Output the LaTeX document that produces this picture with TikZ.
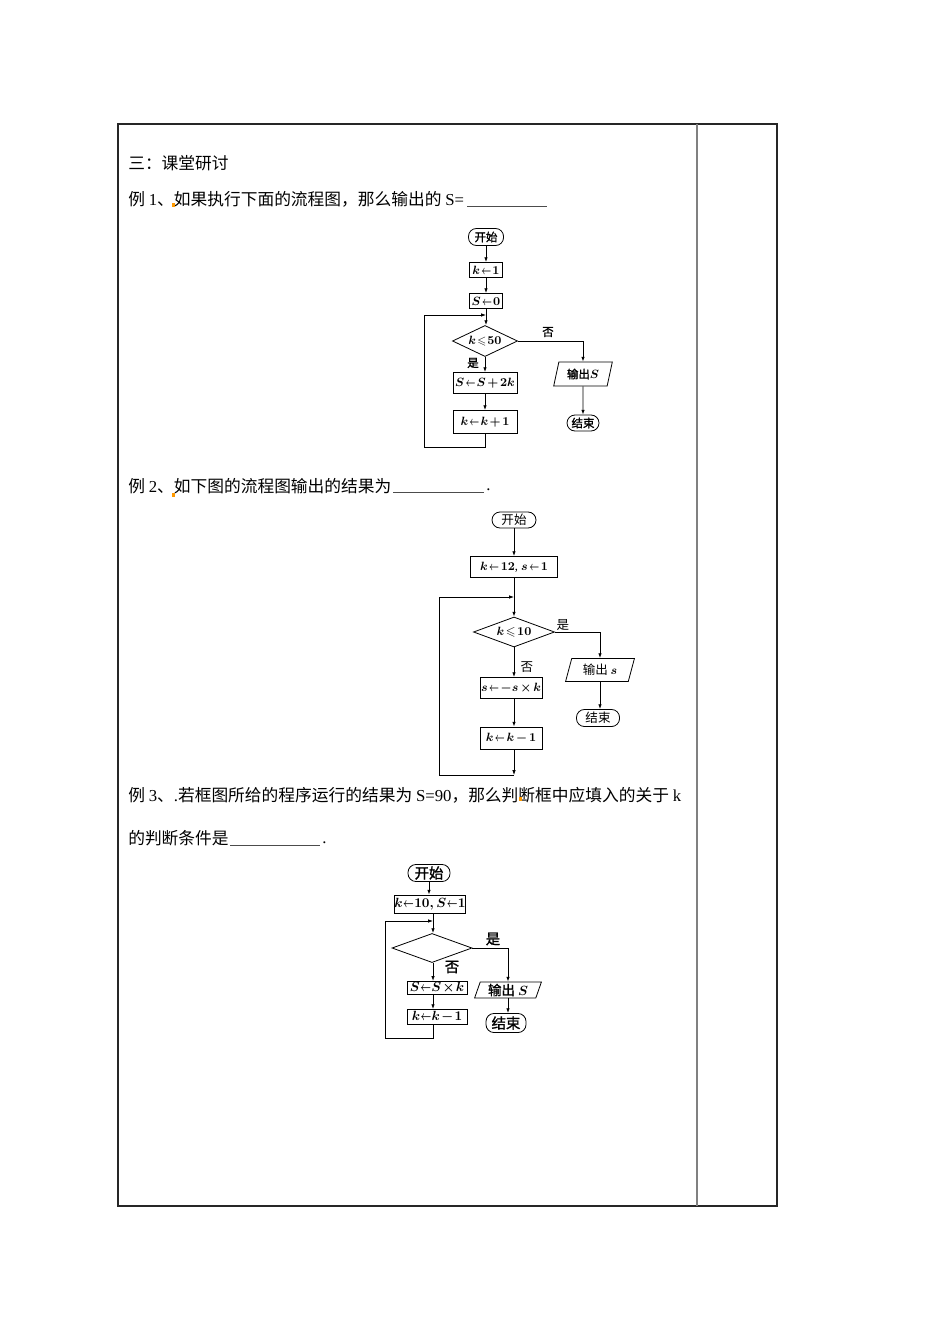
\documentclass[tikz,border=0pt]{standalone}
\usepackage{amsmath,amssymb,graphicx}
\usepackage{fontspec}
\setmainfont{Liberation Serif}
\newfontfamily\zh{Noto Sans CJK SC}
\newfontfamily\zhb{Noto Sans CJK SC}[FakeBold=1.5]
\newcommand\la{\mathrel{\scalebox{0.7}[1]{$\leftarrow$}}}
\newcommand\tightmath[2]{\thickmuskip=#1mu\relax\medmuskip=#2mu\relax}
\usetikzlibrary{shapes.geometric,arrows.meta}
\begin{document}
\begin{tikzpicture}[x=0.75pt,y=-0.75pt,
  txt/.style={anchor=west,inner sep=0pt,font=\fontsize{12.55}{14}\selectfont},
  fl/.style={line width=0.6pt},
  arr/.style={fl,-{Latex[length=3.6pt,width=2.6pt]}},
  box/.style={draw,fl,inner sep=0pt},
  term/.style={draw,fl,rounded corners=6pt,inner sep=0pt},
  dia/.style={draw,fl,diamond,aspect=2.2,inner sep=0pt},
  io/.style={draw,fl,trapezium,trapezium left angle=72,trapezium right angle=108,trapezium stretches=true,inner sep=0pt},
  fa/.style={font=\fontsize{8.6}{10}\selectfont\boldmath\tightmath{1.5}{2}},
  fb/.style={font=\fontsize{9.4}{11}\selectfont\boldmath\tightmath{2}{2.5}},
  fc/.style={font=\fontsize{10.1}{12}\selectfont\boldmath\tightmath{0.5}{1.5}},
  fcz/.style={font=\fontsize{10.8}{12}\selectfont},
  lab/.style={inner sep=0pt}
]
\useasboundingbox (0,0) rectangle (950,1344);
\fill[white] (0,0) rectangle (950,1344);
% table
\draw[line width=0.8pt,black!85] (118,124) rectangle (777,1206);
\draw[line width=1.2pt,black!50] (697,124) -- (697,1206);

% texts
\node[txt] (t0) at (128,163) {\zh 三：课堂研讨};
\node[txt] (t1) at (128,199) {\zh 例 \rmfamily 1\zh 、如果执行下面的流程图，那么输出的 \rmfamily S=};
\draw[line width=0.6pt,black!70] (467,206) -- (547,206);
\node[txt] (t2) at (128,486) {\zh 例 \rmfamily 2\zh 、如下图的流程图输出的结果为};
\draw[line width=0.6pt,black!70] (393,492) -- (484,492);
\node[txt] (p2) at (486,490) {.};
\node[txt] (t3) at (128,795) {\zh 例 \rmfamily 3\zh 、\rmfamily .\zh 若框图所给的程序运行的结果为 \rmfamily S=90\zh ，那么判断框中应填入的关于 \rmfamily k};
\node[txt] (t4) at (128,838) {\zh 的判断条件是};
\draw[line width=0.6pt,black!70] (230,845) -- (320,845);
\node[txt] (p4) at (322,843) {.};
\fill[orange!80!yellow] (172,203) rectangle (175,207);
\fill[orange!80!yellow] (172,493) rectangle (175,497);
\fill[orange!80!yellow] (519,797) rectangle (522,801);

% ---------- flowchart 1
\node[term,fa,minimum width=26.3pt,minimum height=12.8pt] (s1) at (486,237) {\zhb 开始};
\node[box,fa,minimum width=24.8pt,minimum height=11.3pt] (a1) at (486,270) {$k\la 1$};
\node[box,fa,minimum width=24.8pt,minimum height=11.3pt] (a2) at (486,301) {$S\la 0$};
\node[dia,fa,minimum width=48.8pt,minimum height=23.3pt] (d1) at (485,341) {$k\leqslant 50$};
\node[box,fa,minimum width=48pt,minimum height=15.8pt] (b1) at (485,383) {$S\la S+2k$};
\node[box,fa,minimum width=48pt,minimum height=17.3pt] (b2) at (485,422) {$k\la k+1$};
\node[io,fa,minimum width=44pt,minimum height=18pt] (o1) at (583,374) {\zhb 输出$S$};
\node[term,fa,minimum width=24pt,minimum height=12pt] (e1) at (583,423) {\zhb 结束};
\coordinate (l1a) at (424,447);
\coordinate (l1b) at (424,315);
\draw[arr] (s1) -- (a1);
\draw[arr] (a1) -- (a2);
\draw[arr] (a2.south) -- (a2.south |- d1.north);
\draw[arr] (d1.south) -- (b1.north);
\draw[arr] (b1) -- (b2);
\draw[fl] (b2.south) -- (b2.south |- l1a) -- (l1a) -- (l1b);
\draw[arr] (l1b) -- (l1b -| a2.south);
\draw[arr] (d1.east) -- (d1.east -| o1.north) -- (o1.north);
\draw[arr] (o1) -- (e1);
\node[lab,fa] at (548,332) {\zhb 否};
\node[lab,fa] at (473,363) {\zhb 是};

% ---------- flowchart 2
\node[term,fb,minimum width=33pt,minimum height=12pt] (s2) at (514,520) {\zh 开始};
\node[box,fb,minimum width=65.3pt,minimum height=15.8pt] (c1) at (514,567) {$k\la 12$, $s\la 1$};
\node[dia,fb,minimum width=60.8pt,minimum height=22.5pt] (d2) at (514,632) {$k\leqslant 10$};
\node[box,fb,minimum width=46.5pt,minimum height=15.8pt] (c2) at (511,688) {$s\la -s\times k$};
\node[box,fb,minimum width=46.5pt,minimum height=16.5pt] (c3) at (511,738) {$k\la k-1$};
\node[io,fb,minimum width=51.8pt,minimum height=17.3pt] (o2) at (600,670) {\zh 输出 $s$};
\node[term,fb,minimum width=32.3pt,minimum height=12.8pt] (e2) at (598,718) {\zh 结束};
\coordinate (l2a) at (514,775);
\coordinate (l2b) at (439,775);
\coordinate (l2c) at (439,597);
\draw[arr] (s2) -- (c1);
\draw[arr] (c1) -- (d2);
\draw[arr] (d2.south) -- (d2.south |- c2.north);
\draw[arr] (d2.south |- c2.south) -- (d2.south |- c3.north);
\draw[arr] (d2.south |- c3.south) -- (l2a);
\draw[fl] (l2a) -- (l2b) -- (l2c);
\draw[arr] (l2c) -- (l2c -| d2.north);
\draw[arr] (d2.east) -- (d2.east -| o2.north) -- (o2.north);
\draw[arr] (o2.south) -- (o2.south |- e2.north);
\node[lab,fb] at (563,625) {\zh 是};
\node[lab,fb] at (527,667) {\zh 否};

% ---------- flowchart 3
\node[term,fcz,minimum width=31.5pt,minimum height=12.8pt] (s3) at (429,873) {\zhb 开始};
\node[box,fc,minimum width=52pt,minimum height=13.5pt] (f1) at (430,904) {$k\la 10,S\la 1$};
\node[dia,fc,minimum width=60pt,minimum height=21.8pt] (d3) at (432,948) {};
\node[box,fc,minimum width=45pt,minimum height=10pt] (g1) at (437,988) {$S\la S\times k$};
\node[box,fc,minimum width=45pt,minimum height=11.3pt] (g2) at (437,1017) {$k\la k-1$};
\node[io,fc,minimum width=50.3pt,minimum height=12pt] (o3) at (508,990) {\zhb 输出 $S$};
\node[term,fcz,minimum width=30pt,minimum height=14.3pt] (e3) at (506,1023) {\zhb 结束};
\coordinate (ax) at (433,0);
\coordinate (l3a) at (433,1038);
\coordinate (l3b) at (385,1038);
\coordinate (l3c) at (385,921);
\draw[arr] (s3) -- (s3 |- f1.north);
\draw[arr] (ax |- f1.south) -- (ax |- d3.north);
\draw[arr] (ax |- d3.south) -- (ax |- g1.north);
\draw[arr] (ax |- g1.south) -- (ax |- g2.north);
\draw[fl] (ax |- g2.south) -- (l3a) -- (l3b) -- (l3c);
\draw[arr] (l3c) -- (l3c -| ax);
\draw[arr] (d3.east) -- (d3.east -| o3.north) -- (o3.north);
\draw[arr] (o3.south) -- (o3.south |- e3.north);
\node[lab,fcz] at (493,939) {\zhb 是};
\node[lab,fcz] at (452,967) {\zhb 否};
\end{tikzpicture}
\end{document}
